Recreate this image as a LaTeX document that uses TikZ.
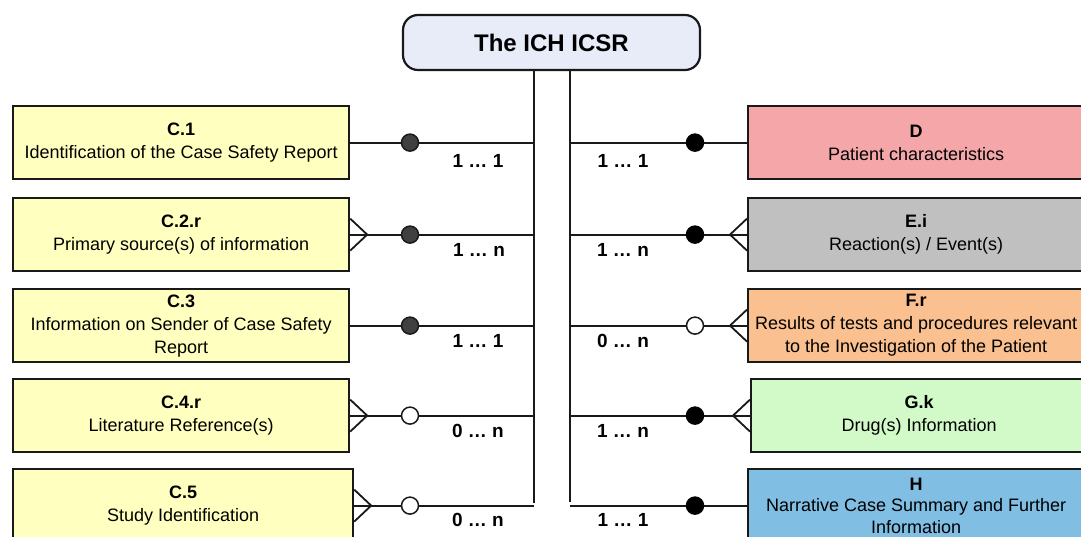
\documentclass[tikz,border=0pt]{standalone}
\usepackage{fontspec}
\setmainfont{Liberation Sans}
\definecolor{ylw}{RGB}{255,255,192}
\definecolor{pnk}{RGB}{244,166,168}
\definecolor{gry}{RGB}{192,192,192}
\definecolor{org}{RGB}{250,192,143}
\definecolor{grn}{RGB}{210,250,200}
\definecolor{blu}{RGB}{128,190,228}
\definecolor{topc}{RGB}{232,236,248}
\definecolor{dotg}{RGB}{64,64,64}
\tikzset{
  ebox/.style={draw=black!90, line width=2.2pt, minimum width=336pt, minimum height=73pt,
    anchor=north west, inner sep=0pt, align=center, font=\fontsize{18}{23}\selectfont},
  conn/.style={draw=black!90, line width=1.8pt},
  dotL/.style={circle, draw=black!90, line width=1.5pt, fill=dotg, minimum size=17pt, inner sep=0pt},
  dotR/.style={circle, draw=black, line width=1.5pt, fill=black, minimum size=17pt, inner sep=0pt},
  dotO/.style={circle, draw=black!90, line width=1.5pt, fill=white, minimum size=17pt, inner sep=0pt},
  card/.style={font=\bfseries\fontsize{19}{22}\selectfont, inner sep=0pt},
}
\begin{document}
\begin{tikzpicture}[x=1pt,y=-1pt]
\useasboundingbox (0,0) rectangle (1081,536);
\clip (0,0) rectangle (1081,536);
\fill[white] (0,0) rectangle (1081,536);

% top node
\node[draw=black!90, line width=2.2pt, fill=topc, rounded corners=15pt, minimum width=297pt,
  minimum height=55pt, inner sep=0pt, font=\bfseries\fontsize{24}{27}\selectfont] (top) at (551.5,42.5) {The ICH ICSR};

% trunk coordinates
\coordinate (lb) at (534,503);
\coordinate (rb) at (570,502);
\coordinate (kl) at (410,0);
\coordinate (kr) at (695,0);

% left boxes
\node[ebox, fill=ylw] (c1) at (12,105) {\textbf{C.1}\\Identification of the Case Safety Report};
\node[ebox, fill=ylw] (c2) at (12,197) {\textbf{C.2.r}\\Primary source(s) of information};
\node[ebox, fill=ylw] (c3) at (12,288) {\textbf{C.3}\\Information on Sender of Case Safety\\Report};
\node[ebox, fill=ylw] (c4) at (12,378) {\textbf{C.4.r}\\Literature Reference(s)};
\node[ebox, fill=ylw, minimum width=340pt] (c5) at (12,468) {\textbf{C.5}\\Study Identification};

% right boxes
\node[ebox, fill=pnk] (d) at (747,105) {\textbf{D}\\Patient characteristics};
\node[ebox, fill=gry] (e) at (747,197) {\textbf{E.i}\\Reaction(s) / Event(s)};
\node[ebox, fill=org] (f) at (747,288) {\textbf{F.r}\\Results of tests and procedures relevant\\to the Investigation of the Patient};
\node[ebox, fill=grn] (g) at (750,378) {\textbf{G.k}\\Drug(s) Information};
\node[ebox, fill=blu, font=\fontsize{18}{21.5}\selectfont] (h) at (747,468) {\textbf{H}\\Narrative Case Summary and Further\\Information};

% trunks
\draw[conn] (top.south -| lb) -- (lb);
\draw[conn] (top.south -| rb) -- (rb);

% left connectors
\foreach \n in {c1,c2,c3,c4,c5}{
  \draw[conn] (\n.east) -- (\n.east -| lb);
}
\foreach \n in {c2,c4,c5}{
  \draw[conn] ([yshift=16pt]\n.east) -- ++(17,16) -- ([yshift=-16pt]\n.east);
}
\node[dotL] (k1) at (c1.east -| kl) {};
\node[dotL] (k2) at (c2.east -| kl) {};
\node[dotL] (k3) at (c3.east -| kl) {};
\node[dotO] (k4) at (c4.east -| kl) {};
\node[dotO] (k5) at (c5.east -| kl) {};

% right connectors
\foreach \n in {d,e,f,g,h}{
  \draw[conn] (\n.west) -- (\n.west -| rb);
}
\foreach \n in {e,f,g}{
  \draw[conn] ([yshift=16pt]\n.west) -- ++(-17,16) -- ([yshift=-16pt]\n.west);
}
\node[dotR] (m1) at (d.west -| kr) {};
\node[dotR] (m2) at (e.west -| kr) {};
\node[dotO] (m3) at (f.west -| kr) {};
\node[dotR] (m4) at (g.west -| kr) {};
\node[dotR] (m5) at (h.west -| kr) {};

% cardinalities
\node[card] (l1) at (478,161) {1 … 1};
\node[card] (l2) at (479,250) {1 … n};
\node[card] (l3) at (478,341) {1 … 1};
\node[card] (l4) at (478,431) {0 … n};
\node[card] (l5) at (478,520) {0 … n};
\node[card] (r1) at (623,161) {1 … 1};
\node[card] (r2) at (623,250) {1 … n};
\node[card] (r3) at (623,341) {0 … n};
\node[card] (r4) at (623,431) {1 … n};
\node[card] (r5) at (623,520) {1 … 1};
\end{tikzpicture}
\end{document}
